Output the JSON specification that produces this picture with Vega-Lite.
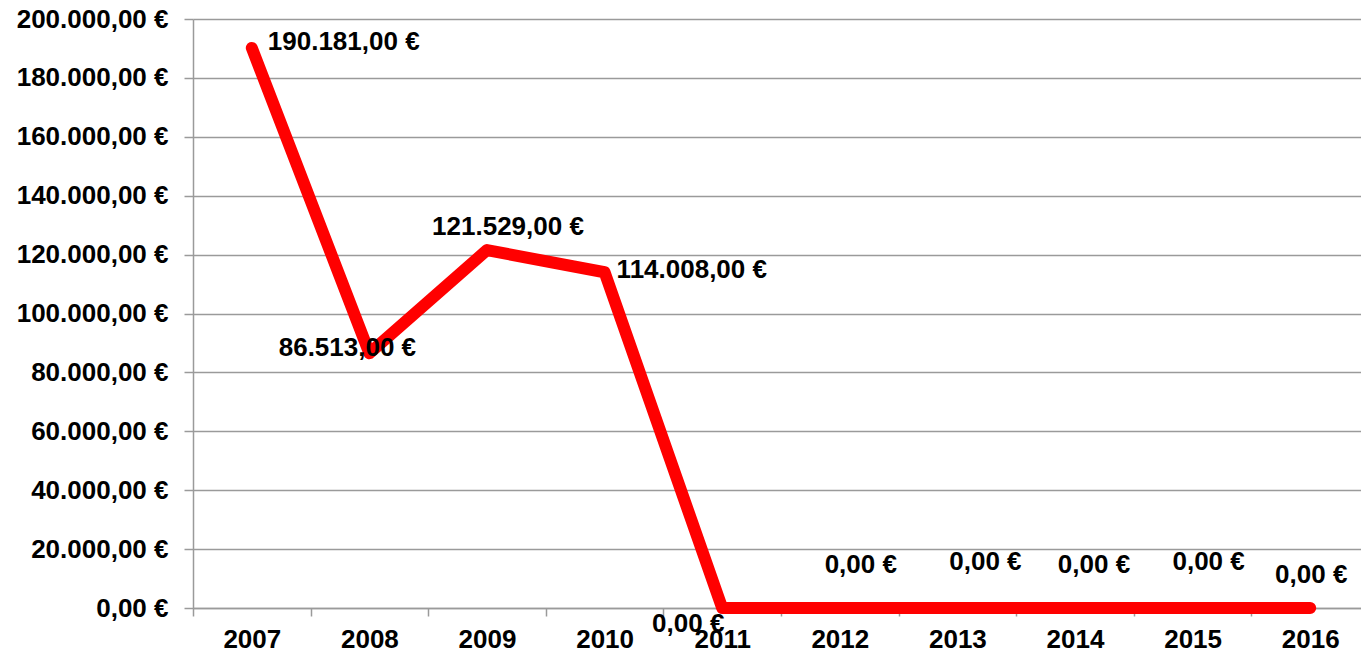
{
  "$schema": "https://vega.github.io/schema/vega-lite/v6.json",
  "autosize": {"type": "none"},
  "width": 1168,
  "height": 589,
  "padding": {"left": 193, "top": 19, "right": 0, "bottom": 45},
  "background": "white",
  "config": {
    "view": {"stroke": null},
    "locale": {"number": {"decimal": ",", "thousands": ".", "grouping": [3], "currency": ["", " €"]}},
    "axis": {
      "labelFont": "Liberation Sans",
      "labelFontWeight": "bold",
      "labelFontSize": 26,
      "labelColor": "#000000",
      "domainColor": "#9a9a9a",
      "tickColor": "#9a9a9a",
      "gridColor": "#9a9a9a",
      "domainWidth": 1.5,
      "tickWidth": 1.5,
      "gridWidth": 1.5,
      "title": null
    },
    "text": {"font": "Liberation Sans", "fontWeight": "bold", "fontSize": 26, "color": "#000000", "baseline": "middle"}
  },
  "data": {
    "values": [
      {"year": "2007", "value": 190181},
      {"year": "2008", "value": 86513},
      {"year": "2009", "value": 121529},
      {"year": "2010", "value": 114008},
      {"year": "2011", "value": 0},
      {"year": "2012", "value": 0},
      {"year": "2013", "value": 0},
      {"year": "2014", "value": 0},
      {"year": "2015", "value": 0},
      {"year": "2016", "value": 0}
    ]
  },
  "encoding": {
    "x": {
      "field": "year", "type": "ordinal", "bandPosition": 0.5,
      "scale": {"type": "band", "paddingInner": 0, "paddingOuter": 0, "range": [0, 1176]},
      "axis": {"labelAngle": 0, "tickBand": "extent", "tickSize": 8, "labelPadding": 10, "grid": false, "domain": true}
    },
    "y": {
      "field": "value", "type": "quantitative",
      "scale": {"domain": [0, 200000], "nice": false},
      "axis": {"values": [0, 20000, 40000, 60000, 80000, 100000, 120000, 140000, 160000, 180000, 200000], "format": "$,.2f", "tickSize": 9, "labelPadding": 16, "grid": true}
    },
    "text": {"field": "value", "type": "quantitative", "format": "$,.2f"}
  },
  "layer": [
    {"mark": {"type": "line", "color": "#ff0000", "strokeWidth": 12, "strokeCap": "round", "strokeJoin": "round"}, "encoding": {"text": null}},
    {"transform": [{"filter": "datum.year == '2007'"}], "mark": {"type": "text", "align": "left", "dx": 16, "dy": -6}},
    {"transform": [{"filter": "datum.year == '2008'"}], "mark": {"type": "text", "align": "center", "dx": -22, "dy": -5}},
    {"transform": [{"filter": "datum.year == '2009'"}], "mark": {"type": "text", "align": "center", "dx": 21, "dy": -23}},
    {"transform": [{"filter": "datum.year == '2010'"}], "mark": {"type": "text", "align": "left", "dx": 12, "dy": -2}},
    {"transform": [{"filter": "datum.year == '2011'"}], "mark": {"type": "text", "align": "center", "dx": -34, "dy": 16}},
    {"transform": [{"filter": "datum.year == '2012'"}], "mark": {"type": "text", "align": "center", "dx": 21, "dy": -43}},
    {"transform": [{"filter": "datum.year == '2013'"}], "mark": {"type": "text", "align": "center", "dx": 28, "dy": -46}},
    {"transform": [{"filter": "datum.year == '2014'"}], "mark": {"type": "text", "align": "center", "dx": 19, "dy": -43}},
    {"transform": [{"filter": "datum.year == '2015'"}], "mark": {"type": "text", "align": "center", "dx": 16, "dy": -46}},
    {"transform": [{"filter": "datum.year == '2016'"}], "mark": {"type": "text", "align": "center", "dx": 1, "dy": -33}}
  ]
}
